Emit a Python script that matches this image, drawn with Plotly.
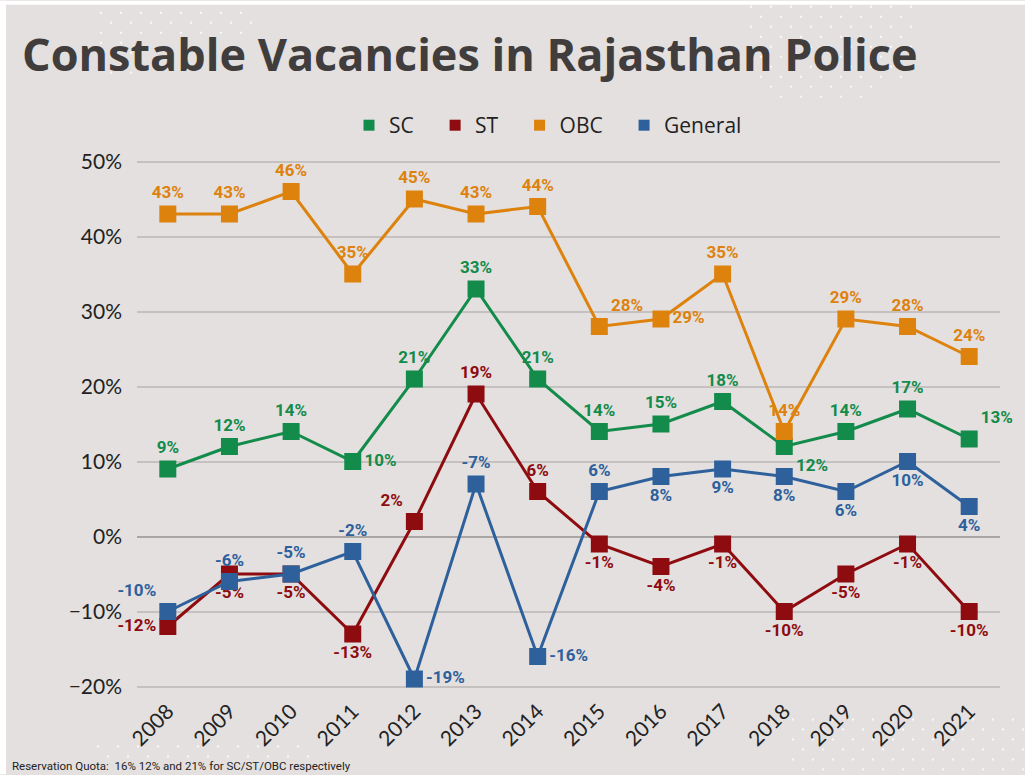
import plotly.graph_objects as go

years = ["2008", "2009", "2010", "2011", "2012", "2013", "2014",
         "2015", "2016", "2017", "2018", "2019", "2020", "2021"]

sc = [9, 12, 14, 10, 21, 33, 21, 14, 15, 18, 12, 14, 17, 13]
st = [-12, -5, -5, -13, 2, 19, 6, -1, -4, -1, -10, -5, -1, -10]
obc = [43, 43, 46, 35, 45, 43, 44, 28, 29, 35, 14, 29, 28, 24]
general = [-10, -6, -5, -2, -19, 7, -16, 6, 8, 9, 8, 6, 10, 4]

y_ticks = [-20, -10, 0, 10, 20, 30, 40, 50]
y_tick_text = [f"{v}%".replace("-", "\u2212") for v in y_ticks]

sc_labels = [f"{v}%" for v in sc]
st_labels = [f"{v}%" for v in st]
obc_labels = [f"{v}%" for v in obc]
general_labels = [f"{v}%" for v in general]
general_labels[5] = "-7%"  # as printed in the source chart

sc_pos = ["top center"] * 14
sc_pos[3] = "middle right"
sc_pos[10] = "bottom right"
sc_pos[13] = "top right"

st_pos = ["bottom center"] * 14
st_pos[0] = "middle left"
st_pos[4] = "top left"
st_pos[5] = "top center"
st_pos[6] = "top center"

obc_pos = ["top center"] * 14
obc_pos[7] = "top right"
obc_pos[8] = "middle right"

gen_pos = ["bottom center"] * 14
gen_pos[0] = "top left"
for i in (1, 2, 3, 5, 7):
    gen_pos[i] = "top center"
gen_pos[4] = "middle right"
gen_pos[6] = "middle right"

series = [
    ("SC", sc, sc_labels, sc_pos, "#138B4B"),
    ("ST", st, st_labels, st_pos, "#8E0C10"),
    ("OBC", obc, obc_labels, obc_pos, "#DE820E"),
    ("General", general, general_labels, gen_pos, "#2E609C"),
]

BG = "#E3E0DF"
fig = go.Figure()
for name, vals, labels, pos, color in series:
    fig.add_trace(go.Scatter(
        x=years, y=vals, name=name, mode="lines+markers+text",
        text=labels, textposition=pos,
        textfont=dict(family="Roboto", size=17, color=color, weight="bold"),
        line=dict(color=color, width=3),
        marker=dict(symbol="square", size=17, color=color),
        cliponaxis=False, showlegend=False,
    ))
# legend entries: square swatch only (nbsp padding widens the gap between entries)
PAD = "\u00a0" * 3
for k, (name, vals, labels, pos, color) in enumerate(series):
    fig.add_trace(go.Scatter(
        x=[None], y=[None], name=name + (PAD if k < len(series) - 1 else ""),
        mode="markers",
        marker=dict(symbol="square", size=11, color=color),
        showlegend=True,
    ))

# plot area geometry (pixels): left 137, right 1000, y=50% at 161, y=-20% at 687
L, R, T, B = 137, 1000, 153.5, 694.5
W, H = 1025, 775
px = lambda p: (p - L) / (R - L)
py = lambda p: (B - p) / (B - T)


def dot_grid(x0, x1, y0, y1):
    """decorative staggered white dot pattern of the background"""
    shapes = []
    row = 0
    y = y0
    while y <= y1:
        x = x0 + (10 if row % 2 else 0)
        while x <= x1:
            shapes.append(dict(type="circle", xref="paper", yref="paper",
                               x0=px(x - 1.2), x1=px(x + 1.2),
                               y0=py(y + 1.2), y1=py(y - 1.2),
                               fillcolor="rgba(255,255,255,0.75)",
                               line=dict(width=0), layer="below"))
            x += 20
        y += 10
        row += 1
    return shapes


decor = []
decor += dot_grid(101, 255, 12, 32)
decor += dot_grid(101, 135, 42, 72)
decor += dot_grid(751, 912, 6, 76)
decor += dot_grid(771, 872, 86, 96)
decor += dot_grid(793, 1025, 720, 775)
decor += dot_grid(98, 315, 747, 757)

frame = [
    dict(type="rect", xref="paper", yref="paper", x0=px(0), x1=px(W), y0=py(4), y1=py(0),
         fillcolor="white", line=dict(width=0), layer="below"),
    dict(type="rect", xref="paper", yref="paper", x0=px(0), x1=px(6), y0=py(H), y1=py(0),
         fillcolor="white", line=dict(width=0), layer="below"),
]

fig.update_layout(
    width=W, height=H,
    paper_bgcolor=BG, plot_bgcolor=BG,
    margin=dict(l=L, r=W - R, t=T, b=H - B, pad=0, autoexpand=False),
    title=dict(text="<b>Constable Vacancies in Rajasthan Police</b>",
               x=22 / W, xref="container", xanchor="left",
               y=1 - 55 / H, yref="container", yanchor="middle",
               font=dict(family="Open Sans", size=45, color="#413D3C")),
    showlegend=True,
    legend=dict(orientation="h", x=px(548), xanchor="center", y=py(125),
                yanchor="middle", xref="paper", yref="paper",
                font=dict(family="Open Sans", size=21, color="#222222"),
                itemwidth=30, tracegroupgap=0,
                bgcolor="rgba(0,0,0,0)"),
    xaxis=dict(type="category", range=[-0.5, 13.5], showgrid=False,
               showline=False, zeroline=False, ticks="",
               tickangle=-45, tickfont=dict(family="Lato", size=21, color="#222222")),
    yaxis=dict(range=[-21, 51], tickmode="array", tickvals=y_ticks, ticktext=y_tick_text,
               showgrid=True, gridcolor="#C4C1C0", gridwidth=2,
               zeroline=True, zerolinecolor="#A9A6A5", zerolinewidth=2,
               showline=False, ticks="",
               tickfont=dict(family="Lato", size=21, color="#222222"),
               ticklabelstandoff=14),
    annotations=[dict(text="Reservation Quota:  16% 12% and 21% for SC/ST/OBC respectively",
                      x=px(10), y=py(767), xref="paper", yref="paper", showarrow=False,
                      xanchor="left", yanchor="middle",
                      font=dict(family="Roboto", size=11.5, color="#222222"))],
    shapes=frame + decor,
)

fig.write_html("out.html", config={"displayModeBar": False},
               post_script="document.body.style.margin='0';document.body.style.overflow='hidden';")
